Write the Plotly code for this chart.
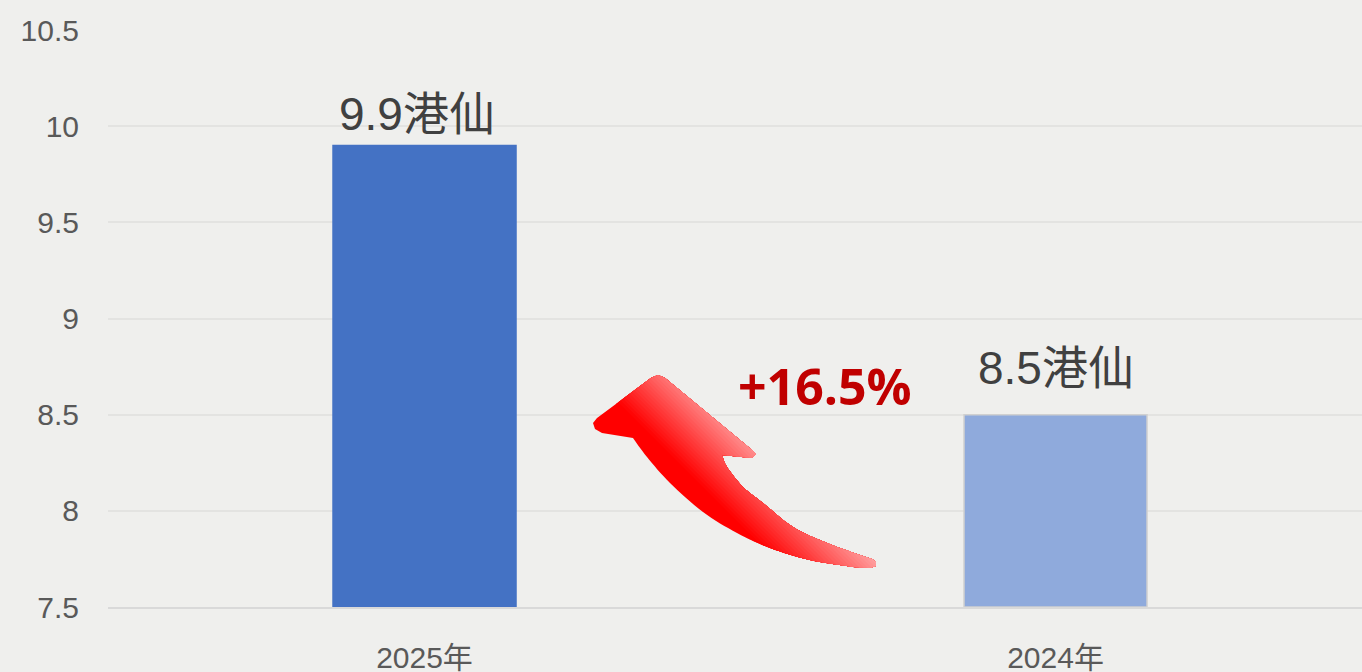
import plotly.graph_objects as go

# ---- data ----
categories = ["2025年", "2024年"]
values = [9.9, 8.5]
value_labels = ["9.9港仙", "8.5港仙"]
bar_colors = ["#4472c4", "#8faadc"]
bar_edges = ["#4472c4", "#d0d0d0"]
change_label = "+16.5%"
y_ticks = [7.5, 8, 8.5, 9, 9.5, 10, 10.5]
y_tick_text = ["7.5", "8", "8.5", "9", "9.5", "10", "10.5"]

W, H = 1362, 672
L, R, T, B = 108, 0, 30, 65
BG = "#efefed"
FONT = "Liberation Sans, Arial, Noto Sans CJK SC, sans-serif"


def catmull(pts, n=8):
    out = []
    P = [pts[0]] + pts + [pts[-1]]
    for i in range(1, len(P) - 2):
        p0, p1, p2, p3 = P[i - 1], P[i], P[i + 1], P[i + 2]
        for k in range(n):
            t = k / n
            t2, t3 = t * t, t * t * t
            out.append(tuple(
                0.5 * (2 * p1[j] + (-p0[j] + p2[j]) * t + (2 * p0[j] - 5 * p1[j] + 4 * p2[j] - p3[j]) * t2
                       + (-p0[j] + 3 * p1[j] - 3 * p2[j] + p3[j]) * t3) for j in range(2)))
    out.append(pts[-1])
    return out


# decorative curved arrow outline (pixel space of the plot area overlay)
outer = [(722, 455), (727, 467), (743, 487), (763, 503), (793, 527), (827, 543), (860, 555), (872, 559)]
inner = [(853, 567), (810, 560), (770, 548), (737, 533), (703, 512), (670, 483), (647, 457), (633, 438)]
arrow = []
arrow += catmull(outer)
arrow += [(876, 562), (876, 566), (870, 568)]
arrow += catmull(inner)
arrow += [(602, 433), (595, 429), (593, 423), (597, 418)]
arrow += [(651, 378), (658, 375), (665, 378)]
arrow += [(752, 450), (756, 454), (752, 458)]


def clip_diag(poly, s):
    """Pieces of a simple polygon where x - y >= s (proper split, no degenerate bridges)."""
    vals = [p[0] - p[1] - s for p in poly]
    if all(v >= 0 for v in vals):
        return [poly]
    if all(v < 0 for v in vals):
        return []
    k = next(i for i, v in enumerate(vals) if v < 0)
    poly = poly[k:] + poly[:k]
    vals = vals[k:] + vals[:k]
    n = len(poly)
    chains, cur = [], None
    for i in range(n):
        P, Q = poly[i], poly[(i + 1) % n]
        fp, fq = vals[i], vals[(i + 1) % n]
        if fp >= 0:
            cur.append(P)
        if (fp >= 0) != (fq >= 0):
            t = fp / (fp - fq)
            X = (P[0] + t * (Q[0] - P[0]), P[1] + t * (Q[1] - P[1]))
            if fp < 0:
                cur = [X]
            else:
                cur.append(X)
                chains.append(cur)
                cur = None
    ev = []
    for ci, ch in enumerate(chains):
        ev.append((ch[0][0] + ch[0][1], "in", ci))
        ev.append((ch[-1][0] + ch[-1][1], "out", ci))
    ev.sort()
    nxt = {}
    for a, b in zip(ev[0::2], ev[1::2]):
        if a[1] == "out":
            nxt[a[2]] = b[2]
        else:
            nxt[b[2]] = a[2]
    pieces, seen = [], set()
    for ci in range(len(chains)):
        if ci in seen:
            continue
        piece, j = [], ci
        while j not in seen:
            seen.add(j)
            piece += chains[j]
            j = nxt.get(j, ci)
        pieces.append(piece)
    return pieces


def grad_color(s):
    s0, s1 = 215, 318
    f = min(max((s - s0) / (s1 - s0), 0), 1)
    g = int(round(f * 165))
    return f"rgb(255,{g},{g})"


def to_path(pieces):
    return " ".join("M " + " L ".join(f"{x:.2f},{y:.2f}" for x, y in pc) + " Z" for pc in pieces)


fig = go.Figure()
fig.add_trace(go.Bar(
    x=list(range(len(categories))), y=[v - 7.5 for v in values], base=7.5,
    width=0.29,
    marker=dict(color=bar_colors, line=dict(color=bar_edges, width=1.5)),
    hoverinfo="skip", showlegend=False,
))
# invisible trace so the overlay axes exist
fig.add_trace(go.Scatter(x=[L, W - R], y=[H - B, T], xaxis="x2", yaxis="y2", mode="markers",
                         marker=dict(opacity=0), hoverinfo="skip", showlegend=False))

# gradient along the (x - y) diagonal: full red base, then progressively clipped layers
shapes = [dict(type="path", xref="x2", yref="y2", path=to_path([arrow]),
               fillcolor="rgb(255,0,0)", line=dict(width=0), layer="above")]
s = 212
step = 4
while s < 330:
    pieces = clip_diag(arrow, s)
    if pieces:
        shapes.append(dict(
            type="path", xref="x2", yref="y2", path=to_path(pieces),
            fillcolor=grad_color(s + step / 2), line=dict(width=0), layer="above",
        ))
    s += step

annotations = []
shifts = [(-8, 31), (0, 47)]
for i, (lab, v) in enumerate(zip(value_labels, values)):
    annotations.append(dict(
        x=i, y=v, xref="x", yref="y", text=lab, showarrow=False,
        xshift=shifts[i][0], yshift=shifts[i][1], yanchor="middle",
        font=dict(family=FONT, size=46, color="#404040"),
    ))
annotations.append(dict(
    x=825, y=386, xref="x2", yref="y2", text="<b>" + change_label + "</b>",
    showarrow=False, yanchor="middle",
    font=dict(family="Open Sans, Noto Sans, sans-serif", size=50, color="#c00000"),
))

fig.update_layout(
    width=W, height=H,
    margin=dict(l=L, r=R, t=T, b=B, autoexpand=False),
    paper_bgcolor=BG, plot_bgcolor=BG,
    bargap=0.71,
    annotations=annotations,
    shapes=shapes,
    xaxis=dict(
        range=[-0.5016, 1.4857], tickmode="array",
        tickvals=list(range(len(categories))), ticktext=categories,
        ticks="outside", ticklen=23, tickcolor="rgba(0,0,0,0)",
        tickfont=dict(family=FONT, size=30, color="#595959"),
        showgrid=False, showline=True, linecolor="#d9d9d9", linewidth=2,
        zeroline=False, fixedrange=True, automargin=False,
    ),
    yaxis=dict(
        range=[7.5, 10.5], tickmode="array", tickvals=y_ticks, ticktext=y_tick_text,
        ticks="outside", ticklen=22, tickcolor="rgba(0,0,0,0)",
        tickfont=dict(family=FONT, size=30, color="#595959"),
        showgrid=True, gridcolor="#e3e3e1", gridwidth=1.5,
        zeroline=False, showline=False, fixedrange=True, automargin=False,
    ),
    xaxis2=dict(overlaying="x", range=[L, W - R], visible=False, fixedrange=True),
    yaxis2=dict(overlaying="y", range=[H - B, T], visible=False, fixedrange=True),
)

fig.write_html(
    "out.html",
    config={"displayModeBar": False},
    post_script="document.body.style.margin='0';document.body.style.overflow='hidden';",
)
